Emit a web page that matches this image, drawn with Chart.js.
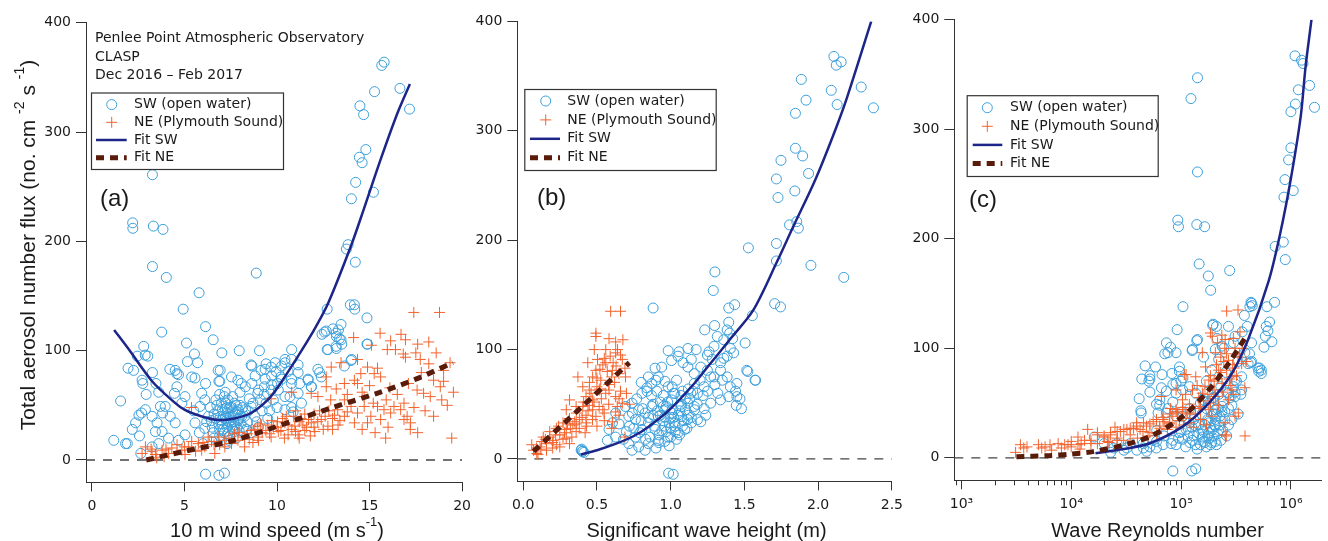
<!DOCTYPE html>
<html>
<head>
<meta charset="utf-8">
<script src="https://cdn.jsdelivr.net/npm/chart.js@4.4.1/dist/chart.umd.min.js"></script>
<style>
  body { margin: 0; background: #fff; width: 1328px; height: 541px; overflow: hidden; position: relative; }
  canvas { position: absolute; top: 0; }
</style>
</head>
<body>
<canvas id="chartA" width="478" height="541" style="left:0px"></canvas>
<canvas id="chartB" width="440" height="541" style="left:470px"></canvas>
<canvas id="chartC" width="423" height="541" style="left:905px"></canvas>
<script>
// tick values
const fluxTicks = [0, 100, 200, 300, 400];
const windTicks = [0, 5, 10, 15, 20];
const waveTicks = [0, 0.5, 1.0, 1.5, 2.0, 2.5];
const reTicks = [1e3, 1e4, 1e5, 1e6];

// (a) flux vs 10 m wind speed
const windSW = [[15.79,364],[15.66,361],[16.64,340],[17.16,321],[15.27,337],[14.48,324],[14.68,316],[14.8,284],[14.45,277],[14.6,272],[14.25,254],[14.02,239],[15.21,245],[13.84,197],[13.75,193],[14.23,181],
  [3.27,261],[2.2,217],[2.21,212],[3.32,214],[3.84,211],[3.27,177],[4.02,167],[8.88,171],[5.79,153],[4.93,138],[6.14,122],[3.77,117],[6.55,110],[5.11,107],
  [12.71,138],[13.96,142],[14.18,142],[14.2,138],[14.86,130],[13.46,124],[13.32,119],[12.66,118],[12.43,115],[13.21,113],[13.46,110],[13.5,106],[12.71,101],[13.2,102],[14.86,106],[10.79,101],
  [2.8,104],[2.88,96],[2.45,95],[1.95,84],[2.25,82],[1.55,54],[1.18,18],[1.82,15],[1.91,15],[2.18,28],[2.57,22],[2.64,6],[6.14,-13],[6.86,-14],[7.16,-12],
  [5.54,97],[5.71,89],[5.16,90],[4.59,79],[4.21,83],[7.02,98],[7.96,100],[9.05,100],[6.93,82],[3.27,80],[3.46,70],[2.71,73],[2.75,70],[2.93,60],[3.61,62],[6.14,70],[6.86,72],[14.0,91],
  [8.64,86],[9.36,83],[9.9,89],[10.25,86],[10.6,81],[11.14,80],[10.79,74],[11.23,70],[11.68,74],[11.86,67],[12.21,83],[12.3,80],[9.36,74],[9.71,69],[8.64,70],[8.29,67],[9.0,64],[10.07,64],[10.43,58],[10.79,48],[11.14,61],[10.25,74],[9.71,77],[10.43,92],[8.82,77],
  [2.36,34],[2.54,41],[2.68,43],[2.89,46],[3.02,95],[4.5,82],[4.68,78],[4.59,67],[4.46,61],[5.03,58],[4.86,52],[5.39,76],[5.57,75],[5.93,61],[6.1,55],[5.84,49],[6.82,82],[6.91,72],[7.54,76],[7.89,73],[8.07,70],
  [8.6,87],[9.14,82],[9.41,88],[9.68,85],[9.95,81],[10.21,76],[10.03,70],[9.68,64],[9.32,67],[8.96,61],[9.41,52],[8.6,49],
  [3.25,12],[3.61,15],[4.14,20],[4.68,18],[5.03,23],[5.57,34],[6.1,29],[3.79,26],[3.43,26],[3.25,40],[3.52,34],[3.96,49],[4.23,40],[4.5,34],[3.7,49],[3.82,43],
  [13.02,120],[12.57,117],[13.19,116],[13.37,111],[13.19,104],[12.75,101],[14.89,106],[10.43,89],[11.14,87],[10.78,92],[13.64,86],[14.03,92],[12.39,76],[11.68,73],[11.85,67],[10.78,70],[10.7,58],[11.32,52],[10.43,46],[10.87,44],
  [6.5,30],[6.7,38],[6.8,45],[6.9,28],[7.0,52],[7.05,33],[7.1,40],[7.15,25],[7.2,47],[7.25,36],[7.3,30],[7.35,55],[7.4,42],[7.45,22],[7.5,34],[7.55,48],[7.6,28],[7.65,40],[7.7,52],[7.75,32],[7.8,20],[7.85,44],[7.9,37],[7.95,27],[8.0,50],[8.1,40],[8.2,30],[8.3,46],[8.4,35],[8.5,56],
  [6.6,20],[6.3,40],[6.4,48],[6.2,35],[7.0,18],[7.3,15],[7.6,58],[8.0,62],[8.8,40],[9.0,30],[8.6,25],[9.2,45],[9.5,38],[9.8,55],[10.0,48],[5.8,25],[6.0,15],[5.5,45],[7.2,62],[6.9,60],
  [6.6,42],[6.75,50],[6.85,33],[6.95,40],[7.05,46],[7.1,28],[7.2,38],[7.25,52],[7.3,43],[7.35,24],[7.4,35],[7.45,48],[7.5,40],[7.55,30],[7.6,45],[7.65,35],[7.7,26],[7.75,42],[7.8,50],[7.85,30],[7.9,46],[7.95,38],[8.05,33],[8.15,48],[8.25,40],[8.35,28],[6.55,25],[6.45,36],[6.7,55],[7.15,58],[8.45,45],[8.7,52],[8.9,35],[9.1,55],[9.3,60],[9.6,45],[6.9,22],[7.4,18],[7.0,36],[7.3,48]];
const windNE = [[2.89,12],[3.25,8],[3.79,9],[4.32,11],[4.86,9],[5.21,12],[5.39,17],[5.75,15],[6.28,21],[6.46,17],[6.82,21],[7.18,18],[7.54,15],[7.89,18],[8.25,21],[8.61,27],[8.96,31],[9.5,32],[10.03,35],[10.21,27],[9.68,21],[8.96,21],[8.25,12],[7.18,12],[6.64,6],[5.93,9],[5.03,5],[4.14,6],[3.43,5],[2.71,6],
  [10.43,34],[10.96,31],[11.5,27],[11.14,23],[11.85,34],[12.39,37],[12.75,31],[13.11,41],[12.04,26],[10.6,23],[10.07,26],
  [17.39,135],[18.78,135],[15.57,116],[14.14,112],[16.14,109],[16.94,110],[17.6,106],[15.96,101],[16.4,101],[16.82,97],[16.94,94],[17.74,92],[19.0,82],[19.35,89],[19.53,62],[18.46,40],[19.44,20],[15.87,20],
  [14.35,92],[14.89,85],[15.43,84],[15.25,79],[15.6,76],[14.53,79],[14.18,73],[13.64,70],[14.35,70],[13.46,89],[12.93,85],[12.66,76],[12.66,67],[11.85,61],[12.21,58],
  [17.57,64],[17.92,61],[18.28,58],[18.82,67],[18.46,73],[19.0,72],
  [16.86,52],[16.68,46],[17.03,40],[17.21,34],[16.86,37],[16.14,43],[16.32,49],[15.43,49],[15.78,46],[15.07,40],[14.71,49],[14.35,43],[14.18,34],[14.89,34],[15.6,37],[14.71,58],[14.0,49],[13.64,55],[13.28,46],[13.64,40],
  [9.68,56],[10.79,62],[5.38,48],
  [10.5,40],[11.0,45],[11.3,38],[11.6,30],[12.0,42],[12.2,35],[12.5,28],[12.8,45],[13.0,38],[13.3,32],[10.8,28],[11.2,20],[11.8,22],[9.2,25],[9.8,30],[8.7,16],[7.7,24],[6.9,14],[6.1,12],[5.6,8],[4.6,14],[3.9,3],
  [15.2,52],[15.9,55],[16.5,60],[17.1,70],[17.8,80],[18.2,88],[18.6,98],[16.1,66],[15.0,68],[14.6,62],[18.9,55],[19.2,50],[18.0,45],[17.4,48],[16.0,30],[15.3,25],[14.6,28],[17.2,28],[17.6,25],[13.8,60],[13.2,65],[12.9,55],[15.1,105],[16.7,115],[17.5,98],[18.2,108],
  [8.4,24],[8.8,28],[9.1,33],[9.4,27],[9.7,36],[10.0,30],[10.3,38],[10.6,32],[10.9,40],[11.2,35],[11.5,42],[11.7,37],[12.0,30],[12.3,45],[9.0,18],[9.6,24],[10.4,20],[11.0,26],[11.4,32],[12.6,40],[13.0,28],[13.4,36],[13.8,44],[7.4,20],[7.9,25],[8.5,19],[6.0,16],[6.6,14],[5.0,12],[4.0,10],[3.5,2],[3.2,10]];
const windFitSW = [[1.2,119],[2.0,101],[3.25,72],[4.3,55],[5.0,46],[5.9,40],[6.8,36.6],[7.7,38],[8.6,43],[9.5,55],[10.1,68],[11.1,94],[11.9,116],[12.75,143],[14.0,196],[14.7,230],[15.6,275],[16.5,317],[17.18,344]];
const windFitNE = [[2.93,0],[5,8],[7.75,18.3],[11,36.6],[13,48],[15.4,61],[17.5,74],[19.5,89]];

// (b) flux vs significant wave height
const waveSW = [[2.107,368],[2.123,360],[2.156,363],[1.886,347],[2.089,337],[2.292,340],[1.918,328],[2.129,324],[2.375,321],[1.846,316],[1.846,284],[1.895,277],[1.748,273],[1.935,261],[1.717,256],[1.728,239],[1.842,245],[1.855,217],[1.866,211],[1.806,214],[1.717,197],[1.717,181],[1.951,177],[2.174,166],[1.527,193],[1.3,171],[1.289,154],[0.881,138],[1.705,142],[1.745,139],[1.554,131],[1.394,138],[1.434,141],[1.505,106],[1.523,80],[1.576,72],[0.986,-13],[1.017,-14],[0.397,9],[0.412,6],[0.401,7],
  [1.231,118],[1.298,122],[1.394,125],[1.383,118],[1.4,115],[1.405,101],[1.36,109],[1.294,103],[1.316,112],[1.249,95],[1.282,91],[1.338,88],[1.383,94],[1.427,97],[1.516,81],[1.572,72],[1.449,57],[1.445,49],[1.394,57],[1.405,66],[1.449,69],[1.338,54],[1.271,51],[1.227,46],[1.238,40],[1.204,34],[1.182,36],[1.115,36],[1.16,78],[1.204,84],[1.249,81],[1.294,75],[1.338,81],[1.383,75],[1.16,69],[1.227,66],[1.271,75],[1.137,60],[1.182,60],
  [0.983,99],[1.057,98],[1.117,101],[1.173,100],[1.006,90],[1.084,88],[1.05,94],[1.14,91],[1.117,84],[0.894,83],[0.939,84],[0.849,75],[0.916,75],[0.961,71],[0.872,69],[0.805,60],[0.839,65],[0.906,62],[0.983,66],[1.028,60],[1.006,54],[0.738,51],[0.783,45],[0.716,39],[0.761,36],[0.827,42],[0.872,48],[0.916,39],[0.961,45],[1.006,42],[1.073,48],[1.117,51],[1.162,45],[1.073,39],[1.028,33],[0.961,30],[0.894,27],[0.849,33],[0.805,27],[0.761,20],[0.716,14],[0.783,11],[0.849,14],[0.916,17],[0.983,20],[1.05,24],[1.095,27],[1.14,33],[0.738,8],[0.827,8],[0.582,27],[0.571,17],[0.627,20],[0.605,33],[0.627,42],[0.694,48],[0.393,8],[0.404,7],
  [0.92,22],[0.95,35],[0.97,48],[1.0,28],[1.02,38],[1.04,18],[1.06,44],[1.08,30],[1.1,55],[0.88,40],[0.86,20],[0.93,52],[0.99,12],[1.03,25],[1.07,58],[1.12,40],[1.15,62],[1.18,50],[1.2,72],[0.9,10],[0.8,35],[0.75,28],[0.68,18],[0.65,32],[0.7,25],[0.95,58],[1.01,66],[1.22,58],[1.25,62],[1.3,68],[1.35,72],[1.32,60],[1.26,98],[1.36,92],[1.42,110],[1.47,55],[1.44,62],[1.48,46],
  [0.72,30],[0.74,42],[0.77,55],[0.79,24],[0.81,46],[0.83,18],[0.85,38],[0.87,58],[0.89,30],[0.91,44],[0.92,15],[0.94,26],[0.96,38],[0.98,52],[0.99,33],[1.0,20],[1.01,45],[1.02,60],[1.03,30],[1.05,40],[1.06,22],[1.07,50],[1.09,35],[1.1,45],[1.11,28],[1.13,55],[1.14,38],[1.16,48],[0.96,16],[0.93,40],[0.88,50],[0.84,62],[0.8,70],[0.9,72],[1.04,72],[0.97,25],[1.08,62],[1.0,38],[0.95,48],[1.12,64]];
const waveNE = [[0.593,135],[0.66,135],[0.493,115],[0.493,112],[0.582,110],[0.627,107],[0.676,109],[0.482,100],[0.56,100],[0.627,97],[0.672,91],[0.504,91],[0.438,88],[0.493,81],[0.56,88],[0.605,81],[0.649,78],[0.694,75],[0.371,75],[0.471,75],[0.526,72],[0.404,66],[0.448,63],[0.515,63],[0.582,63],[0.627,57],[0.672,51],[0.638,48],[0.471,54],[0.426,57],[0.314,54],[0.292,45],[0.359,48],
  [0.07,8],[0.114,11],[0.158,14],[0.203,17],[0.248,22],[0.292,27],[0.337,31],[0.381,36],[0.426,40],[0.471,45],[0.136,20],[0.18,25],[0.225,28],[0.27,33],[0.314,37],[0.092,5],[0.158,8],[0.225,13],[0.292,19],[0.359,25],[0.426,33],[0.493,39],[0.549,42],[0.515,48],[0.448,49],[0.404,48],[0.248,11],[0.314,14],[0.058,13],[0.125,16],[0.605,34],[0.627,43],
  [0.1,4],[0.2,10],[0.27,18],[0.33,20],[0.38,28],[0.42,24],[0.5,30],[0.55,35],[0.6,28],[0.65,40],[0.53,55],[0.56,60],[0.58,68],[0.52,82],[0.55,92],[0.61,88],[0.64,100],[0.66,95],[0.7,60],[0.72,50],[0.45,70],[0.5,66],[0.6,75],[0.69,20],[0.66,62],[0.69,83],
  [0.15,18],[0.18,20],[0.22,22],[0.24,30],[0.28,24],[0.3,32],[0.32,28],[0.35,34],[0.36,42],[0.4,38],[0.41,52],[0.44,44],[0.46,60],[0.48,52],[0.5,74],[0.52,64],[0.54,86],[0.57,80],[0.59,94],[0.62,70],[0.63,85],[0.65,55],[0.58,50],[0.54,45],[0.47,36],[0.43,30],[0.36,32],[0.12,9],[0.09,10],[0.2,15]];
const waveFitSW = [[0.39,4],[0.5,8],[0.63,14],[0.75,21],[0.85,29.5],[1.0,46],[1.16,69],[1.25,84],[1.4,109],[1.56,136],[1.72,180],[1.83,212],[1.98,255],[2.1,295],[2.19,328],[2.36,400]];
const waveFitNE = [[0.07,7],[0.4,48],[0.72,88]];

// (c) flux vs wave Reynolds number
const reSW = [[1.09e6,367],[1.25e6,363],[1.29e6,360],[1.48e6,340],[1.17e6,336],[1.1e6,323],[1.64e6,320],[1.0e6,316],[1.0e6,283],[9.53e5,272],[8.83e5,254],[1.05e6,244],[8.65e5,238],[7.19e5,193],[8.53e5,197],[8.89e5,181],
  [1.41e5,347],[1.23e5,328],[1.41e5,261],[9.33e4,217],[9.46e4,211],[1.39e5,213],[1.64e5,211],[1.46e5,177],[1.77e5,166],[1.86e5,153],[2.77e5,171],[1.04e5,138],[9.2e4,117],[1.96e5,122],
  [4.33e5,142],[4.45e5,139],[3.77e5,130],[7.1e5,142],[6.05e5,138],[5.97e5,120],[6.4e5,124],[6.18e5,116],[5.85e5,111],[6.71e5,106],[5.69e5,101],[5.09e5,79],[5.38e5,77],[4.3e5,87],
  [7.35e4,105],[7.1e4,95],[8.02e4,101],[1.26e5,98],[1.39e5,107],[4.7e4,84],[5.85e4,83],[4.39e4,72],[5.09e4,70],[5.2e4,75],[5.2e4,60],[6.62e4,64],[6.71e4,76],[8.24e4,77],[9.66e4,83],[1.04e5,73],[4.15e4,54],[4.3e4,43],[4.33e4,41],[5.97e4,49],[6.4e4,53],[7.35e4,61],
  [1.25e5,-12],[1.36e5,-10],[8.41e4,-12],
  [1.62e4,19],[2.28e4,5],[3.01e4,7],[3.95e4,7],[5.2e4,10],[6.85e4,12],[3.21e4,9],[8.41e4,16],[5.97e4,15],[4.54e4,9],
  [7.59e4,96],[5.2e4,72],[9.64e4,79],[8.41e4,67],[8.99e4,59],[9.98e4,70],[6.38e4,48],[7.59e4,45],[8.41e4,51],[6.17e4,41],[7.33e4,41],[8.99e4,38],[1.03e5,42],
  [1.99e4,13],[2.44e4,9],[4.85e4,6],[5.96e4,9],[8.13e4,13],[1.03e5,17],[3.44e4,13],[4.53e4,13],[5.57e4,16],[2.61e4,13],
  [8.99e4,68],[1.03e5,62],[1.19e5,65],[1.36e5,59],[1.56e5,53],[1.79e5,50],[2.05e5,44],[2.36e5,47],[2.7e5,59],[3.1e5,56],[3.56e5,74],[4.08e5,86],[4.38e5,88],[5.38e5,80],[5.01e5,82],[1.03e5,38],[1.19e5,32],[1.36e5,29],[1.56e5,26],[1.79e5,23],[2.05e5,29],[1.27e5,16],[1.56e5,19],[9.64e4,23],[1.11e5,26],[3.56e5,62],[3.1e5,71],[3.81e5,96],[4.38e5,105],[3.1e5,111],[2.7e5,120],[2.36e5,102],[2.05e5,99],[1.41e5,108],[1.27e5,99],[9e4,96],
  [5.19e5,82],[4.38e5,141],[4.23e5,138],[1.94e5,121],[2.13e5,109],
  [1.5e5,12],[1.6e5,15],[1.7e5,10],[1.8e5,18],[1.9e5,14],[2.0e5,20],[2.1e5,12],[2.2e5,25],[1.65e5,30],[1.75e5,35],[1.85e5,28],[1.95e5,40],[2.05e5,35],[2.15e5,45],[2.25e5,38],[2.4e5,52],[2.5e5,42],[2.6e5,60],[2.8e5,55],[3.0e5,65],[3.2e5,70],[2.9e5,48],[2.3e5,65],[2.0e5,55],[1.45e5,22],[1.3e5,35],[1.2e5,45],[1.1e5,10],[9.5e4,18],[1.4e5,8],[1.2e5,14],[2.7e5,30],[3.3e5,40],[3.5e5,58],[2.55e5,78],[2.2e5,90],[1.9e5,80],[2.45e5,100],[3.0e5,105],[3.3e5,88],[1.7e5,70],[1.6e5,92],[3.6e5,115],[4.0e5,120],[4.2e5,95],[2.1e5,120],
  [1.3e5,20],[1.35e5,12],[1.45e5,30],[1.55e5,40],[1.6e5,24],[1.65e5,14],[1.7e5,45],[1.75e5,20],[1.8e5,32],[1.85e5,12],[1.9e5,25],[1.95e5,55],[2.0e5,30],[2.05e5,15],[2.1e5,40],[2.15e5,22],[2.2e5,58],[2.25e5,30],[2.3e5,16],[2.35e5,42],[2.4e5,25],[2.5e5,35],[2.6e5,20],[2.7e5,45],[2.9e5,35],[3.1e5,60],[1.15e5,20],[1.25e5,28],[9e4,12],[1.0e5,24],[7e4,20],[6e4,25],[2.0e5,40],[1.75e5,60],[1.5e5,50]];
const reNE = [[3.11e3,5],[3.44e3,12],[3.69e3,9],[3.95e3,10],[5.38e3,9],[6.4e3,12],[6.62e3,7],[8.13e3,9],[9.33e3,12],[1.0e4,15],[1.15e4,12],[1.32e4,16],[1.41e4,26],[1.51e4,13],
  [5.02e3,12],[5.77e3,10],[7.59e3,13],[8.71e3,12],[9.98e3,10],[1.15e4,19],[1.23e4,13],[1.51e4,16],[1.73e4,21],[1.99e4,19],[2.28e4,23],[2.61e4,18],[2.8e4,24],[3.21e4,26],[3.69e4,27],[3.94e4,32],[4.23e4,26],[4.85e4,29],[5.57e4,33],[5.2e4,23],[6.38e4,29],[6.84e4,35],[7.83e4,32],[8.41e4,38],[6.61e4,56],[9.31e4,41],[1.03e5,44],[1.07e5,76],[9e4,62],
  [1.73e4,23],[1.99e4,20],[2.28e4,21],[2.62e4,24],[3.01e4,26],[3.44e4,27],[3.95e4,29],[4.54e4,32],[5.2e4,31],[5.97e4,35],[6.85e4,37],[7.87e4,40],[9.02e4,42],[1.04e5,46],[1.19e5,49],[1.11e5,40],[9.66e4,34],[7.87e4,31],[6.4e4,27],[3.44e4,21],[2.62e4,16],[2.13e4,15],[1.73e4,13],
  [2.6e5,134],[3.3e5,135],[1.85e5,114],[1.92e5,111],[2.52e5,108],[2.99e5,109],[3.44e5,115],[2.58e5,20],[3.82e5,20],
  [1.56e5,96],[2.05e5,96],[2.7e5,89],[3.56e5,86],[1.67e5,83],[2.2e5,80],[2.9e5,74],[3.81e5,64],[2.36e5,68],[1.79e5,71],[1.36e5,74],[1.11e5,76],[1.27e5,62],[1.56e5,59],[2.05e5,56],[2.7e5,53],[3.32e5,41],[3.1e5,38],[2.52e5,32],[2.52e5,21],[1.03e5,53],[9e4,44],[1.19e5,41],[1.46e5,47],[1.79e5,44],
  [2.0e5,70],[2.1e5,85],[2.3e5,92],[2.5e5,100],[2.6e5,80],[2.8e5,66],[3.0e5,58],[3.2e5,75],[3.4e5,95],[2.4e5,60],[2.2e5,48],[1.9e5,38],[1.7e5,30],[1.5e5,35],[1.3e5,28],[1.45e5,55],[1.65e5,65],[1.85e5,75],[2.15e5,105],[2.35e5,112],[3.1e5,100],[2.95e5,85],[1.2e5,32],[8e4,45],[1.1e5,58],
  [1.5e5,45],[1.6e5,52],[1.75e5,58],[1.85e5,50],[2.0e5,62],[2.15e5,72],[2.3e5,78],[2.45e5,88],[2.6e5,95],[2.75e5,72],[2.9e5,62],[3.05e5,82],[3.3e5,92],[3.6e5,100],[3.9e5,88],[1.35e5,40],[1.2e5,36],[1.05e5,30],[9e4,28],[7.5e4,26],[6e4,22],[5e4,20],[4e4,18],[3e4,16],[2.2e4,14],[1.2e4,8],[2.5e4,28],[4.5e4,24],[7e4,33],[1.4e5,66]];
const reFitSW = [[1.66e4,4.2],[3.0e4,8],[5.2e4,13.3],[1.03e5,28.5],[1.79e5,50],[2.9e5,77],[4.08e5,108],[6.3e5,162],[8.0e5,205],[1.0e6,255],[1.23e6,312],[1.36e6,357],[1.54e6,400]];
const reFitNE = [[3.16e3,1],[6.3e3,2],[1.0e4,3.5],[1.58e4,5.7],[2.8e4,11],[5.2e4,19.4],[1.03e5,37.6],[1.79e5,62],[2.7e5,86],[3.8e5,109]];

const SW_COLOR = '#3b9fdb';
const NE_COLOR = '#f4622c';
const FIT_SW_COLOR = '#1d2688';
const FIT_NE_COLOR = '#5a1c0a';
const AXIS = '#333';
const TEXT = '#1a1a1a';
const NOTE_FONT = '"DejaVu Sans", sans-serif';
const TITLE_FONT = '"Liberation Sans", Arial, sans-serif';

const toPts = arr => arr.map(([x, y]) => ({x, y}));

// draws text with superscript parts, centred on (cx, cy)
function drawRich(ctx, parts, cx, cy, size) {
  const fontOf = p => (p.sup ? Math.round(size * 0.66) : size) + 'px ' + TITLE_FONT;
  let w = 0;
  parts.forEach(p => { ctx.font = fontOf(p); w += ctx.measureText(p.t).width; });
  let x = cx - w / 2;
  ctx.textAlign = 'left';
  ctx.textBaseline = 'middle';
  parts.forEach(p => {
    ctx.font = fontOf(p);
    ctx.fillText(p.t, x, p.sup ? cy - size * 0.42 : cy);
    x += ctx.measureText(p.t).width;
  });
}

const decor = {
  id: 'decor',
  afterDraw(chart, args, o) {
    const ctx = chart.ctx;
    const ox = o.ox;
    ctx.save();
    ctx.fillStyle = TEXT;

    // minor ticks on the log axis
    if (o.minor) {
      const sx = chart.scales.x;
      ctx.strokeStyle = AXIS;
      ctx.lineWidth = 1;
      for (let d = 2; d <= 6; d++) {
        for (let m = 2; m <= 9; m++) {
          const v = m * Math.pow(10, d);
          if (v < sx.min || v > sx.max) continue;
          const px = Math.round(sx.getPixelForValue(v)) + 0.5;
          ctx.beginPath();
          ctx.moveTo(px, sx.top);
          ctx.lineTo(px, sx.top + 5);
          ctx.stroke();
        }
      }
    }

    // notes
    ctx.font = '14px ' + NOTE_FONT;
    ctx.textAlign = 'left';
    ctx.textBaseline = 'middle';
    (o.notes || []).forEach(n => ctx.fillText(n.t, n.x - ox, n.y));

    // panel letter
    ctx.font = '24px ' + TITLE_FONT;
    ctx.fillText(o.label.t, o.label.x - ox, o.label.y);

    // legend
    const L = o.legend;
    ctx.strokeStyle = AXIS;
    ctx.lineWidth = 1.2;
    ctx.strokeRect(L.x - ox + 0.5, L.y + 0.5, L.w, L.h);
    const names = ['SW (open water)', 'NE (Plymouth Sound)', 'Fit SW', 'Fit NE'];
    ctx.font = '14px ' + NOTE_FONT;
    names.forEach((t, i) => ctx.fillText(t, L.textX - ox, L.y + L.row0 + i * L.step));
    const rowY = i => L.y + L.row0 + i * L.step;
    const mx = L.markX - ox;
    ctx.strokeStyle = SW_COLOR;
    ctx.lineWidth = 1;
    ctx.beginPath();
    ctx.arc(mx, rowY(0), 5, 0, Math.PI * 2);
    ctx.stroke();
    ctx.strokeStyle = NE_COLOR;
    ctx.beginPath();
    ctx.moveTo(mx - 5.5, rowY(1)); ctx.lineTo(mx + 5.5, rowY(1));
    ctx.moveTo(mx, rowY(1) - 5.5); ctx.lineTo(mx, rowY(1) + 5.5);
    ctx.stroke();
    ctx.strokeStyle = FIT_SW_COLOR;
    ctx.lineWidth = 2.5;
    ctx.beginPath();
    ctx.moveTo(L.line0 - ox, rowY(2)); ctx.lineTo(L.line1 - ox, rowY(2));
    ctx.stroke();
    ctx.strokeStyle = FIT_NE_COLOR;
    ctx.lineWidth = 5;
    ctx.setLineDash([8, 6]);
    ctx.beginPath();
    ctx.moveTo(L.line0 - ox, rowY(3)); ctx.lineTo(L.line1 - ox, rowY(3));
    ctx.stroke();
    ctx.setLineDash([]);

    // axis titles
    ctx.fillStyle = TEXT;
    drawRich(ctx, o.xTitle.parts, o.xTitle.x - ox, o.xTitle.y, 20);
    if (o.yTitle) {
      ctx.save();
      ctx.translate(o.yTitle.x - ox, o.yTitle.y);
      ctx.rotate(-Math.PI / 2);
      drawRich(ctx, o.yTitle.parts, 0, 0, 21);
      ctx.restore();
    }
    ctx.restore();
  }
};

function makePanel(id, p) {
  const datasets = [
    {data: toPts(p.fitNE), showLine: true, borderColor: FIT_NE_COLOR, borderWidth: 5, borderDash: [8, 6],
     pointRadius: 0, tension: 0.3, order: 0},
    {data: toPts(p.fitSW), showLine: true, borderColor: FIT_SW_COLOR, borderWidth: 2.5,
     pointRadius: 0, tension: 0.3, order: 1},
    {data: toPts(p.ne), pointStyle: 'cross', pointRadius: 5.5, borderColor: NE_COLOR, borderWidth: 1, order: 2},
    {data: toPts(p.sw), pointStyle: 'circle', pointRadius: 5, borderColor: SW_COLOR, backgroundColor: 'rgba(0,0,0,0)',
     borderWidth: 1, order: 3},
    {data: [{x: p.xMin, y: 0}, {x: p.xMax, y: 0}], showLine: true, borderColor: '#444', borderWidth: 1.3,
     borderDash: [9, 8], pointRadius: 0, order: 4}
  ];
  return new Chart(document.getElementById(id), {
    type: 'scatter',
    data: {datasets},
    options: {
      responsive: false,
      animation: false,
      events: [],
      layout: {padding: {top: p.top, right: p.padRight, left: 0, bottom: 0}},
      plugins: {legend: {display: false}, tooltip: {enabled: false}, decor: p.decor},
      scales: {
        x: {
          type: p.xType, min: p.xMin, max: p.xMax,
          afterBuildTicks: s => { s.ticks = p.xTicks.map(v => ({value: v})); },
          afterFit: s => { s.height = 541 - p.bottom; },
          border: {color: AXIS, width: 1},
          grid: {drawOnChartArea: false, tickLength: 9, tickColor: AXIS},
          ticks: {font: {family: 'DejaVu Sans', size: 14}, color: TEXT, padding: 7,
                  autoSkip: false, maxRotation: 0, callback: p.xLabel}
        },
        y: {
          type: 'linear', min: -20.5, max: 400,
          afterBuildTicks: s => { s.ticks = fluxTicks.map(v => ({value: v})); },
          afterFit: s => { s.width = p.yWidth; },
          border: {color: AXIS, width: 1},
          grid: {drawOnChartArea: false, tickLength: 10, tickColor: AXIS},
          ticks: {font: {family: 'DejaVu Sans', size: 14}, color: TEXT, padding: 5, callback: v => String(v)}
        }
      }
    },
    plugins: [decor]
  });
}

const SUP = {3: '\u00b3', 4: '\u2074', 5: '\u2075', 6: '\u2076'};

makePanel('chartA', {
  sw: windSW, ne: windNE, fitSW: windFitSW, fitNE: windFitNE,
  xType: 'linear', xMin: -0.32, xMax: 20, xTicks: windTicks, xLabel: v => String(v),
  top: 22.8, bottom: 482.4, yWidth: 86, padRight: 12.7,
  decor: {
    ox: 0,
    notes: [{t: 'Penlee Point Atmospheric Observatory', x: 95, y: 38},
            {t: 'CLASP', x: 95, y: 57},
            {t: 'Dec 2016 \u2013 Feb 2017', x: 95, y: 75}],
    label: {t: '(a)', x: 100, y: 199},
    legend: {x: 91, y: 92.5, w: 192, h: 76.5, row0: 12.1, step: 17.7, markX: 111.7, line0: 96, line1: 126.7, textX: 134},
    xTitle: {parts: [{t: '10 m wind speed (m s'}, {t: '-1', sup: true}, {t: ')'}], x: 277, y: 531},
    yTitle: {parts: [{t: 'Total aerosol number flux (no. cm '}, {t: '-2', sup: true}, {t: ' s '}, {t: '-1', sup: true}, {t: ')'}], x: 29, y: 245}
  }
});

makePanel('chartB', {
  sw: waveSW, ne: waveNE, fitSW: waveFitSW, fitNE: waveFitNE,
  xType: 'linear', xMin: -0.04, xMax: 2.5, xTicks: waveTicks, xLabel: v => v.toFixed(1),
  top: 21.4, bottom: 481.4, yWidth: 47.3, padRight: 13,
  decor: {
    ox: 470,
    label: {t: '(b)', x: 537, y: 198},
    legend: {x: 524.3, y: 89, w: 191.4, h: 81, row0: 12, step: 18.9, markX: 545.7, line0: 530, line1: 560, textX: 567.3},
    xTitle: {parts: [{t: 'Significant wave height (m)'}], x: 706.5, y: 531}
  }
});

makePanel('chartC', {
  sw: reSW, ne: reNE, fitSW: reFitSW, fitNE: reFitNE,
  xType: 'logarithmic', xMin: 860, xMax: 1.9e6, xTicks: reTicks,
  xLabel: v => '10' + SUP[Math.round(Math.log10(v))],
  top: 19.7, bottom: 480.3, yWidth: 49.3, padRight: 0,
  decor: {
    ox: 905, minor: true,
    label: {t: '(c)', x: 969, y: 200},
    legend: {x: 966.7, y: 95.2, w: 191, h: 80.8, row0: 12.5, step: 18.6, markX: 987.3, line0: 972.7, line1: 1002.3, textX: 1010},
    xTitle: {parts: [{t: 'Wave Reynolds number'}], x: 1157.5, y: 531}
  }
});
</script>
</body>
</html>
